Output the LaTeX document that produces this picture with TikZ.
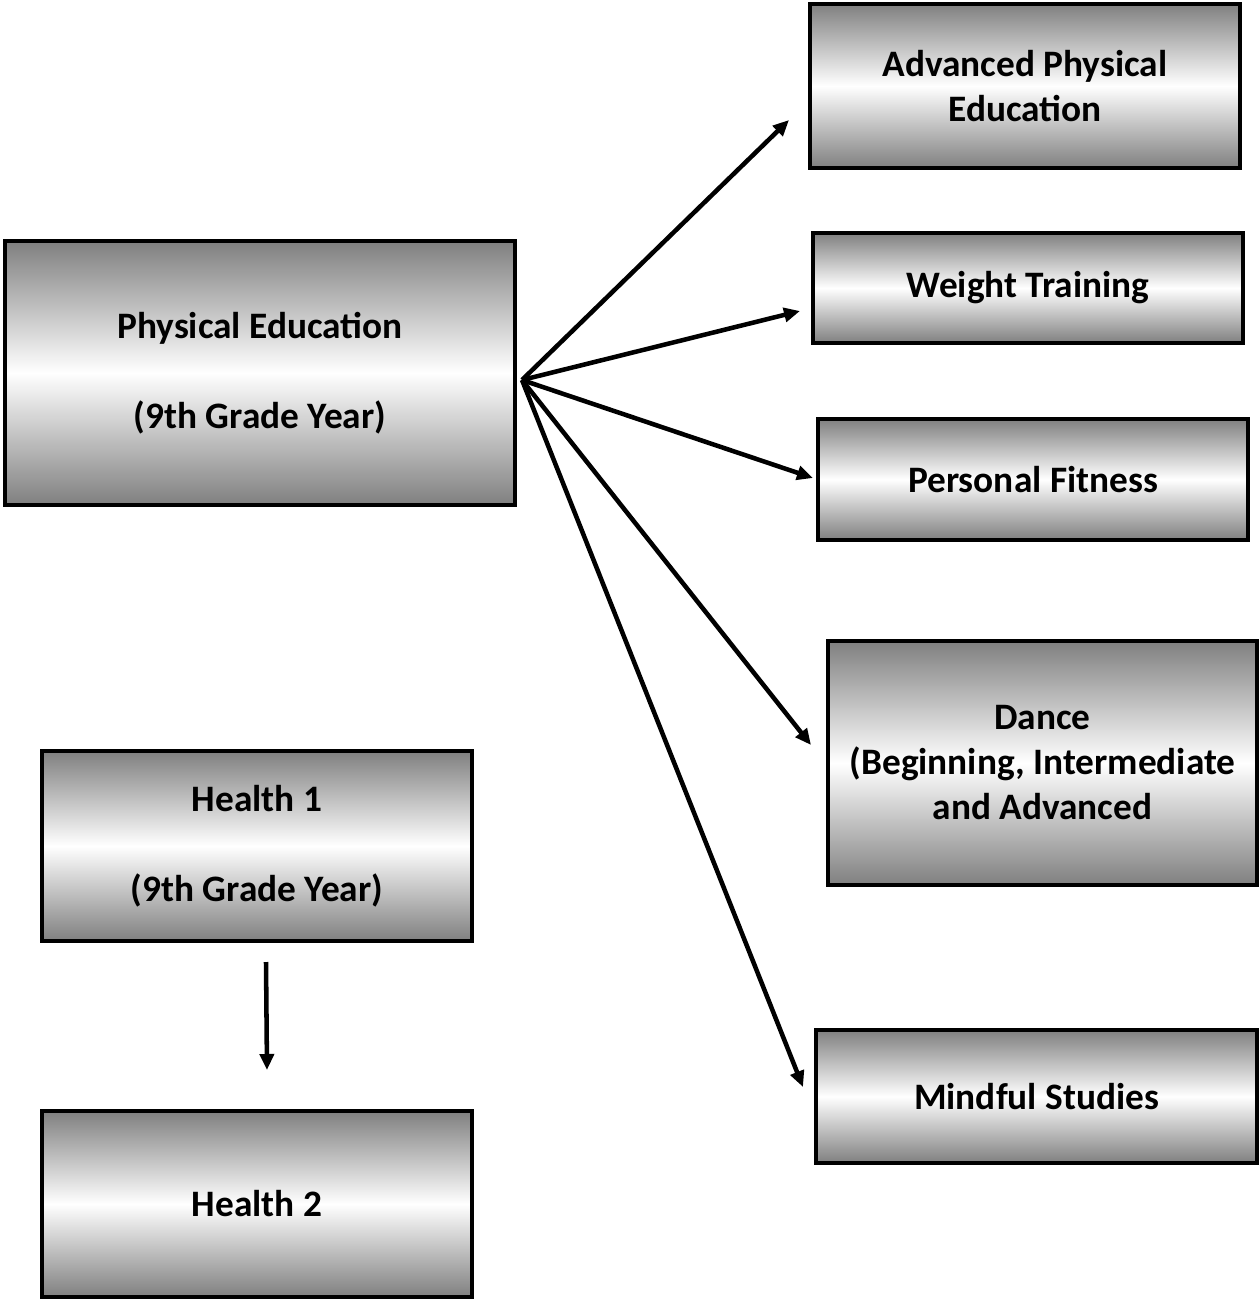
\documentclass[tikz,border=0pt]{standalone}
\usepackage{fontspec}
\setmainfont{Carlito}
\usetikzlibrary{arrows.meta}
\tikzset{
  box/.style 2 args={draw=black, line width=2.3pt, rectangle,
    top color=gray, bottom color=gray, middle color=white,
    minimum width=#1*0.75pt, minimum height=#2*0.75pt,
    inner sep=1pt, align=center,
    font=\fontsize{28}{33.75}\selectfont\bfseries},
  conn/.style={line width=3.4pt, -{Triangle[length=12pt,width=10.5pt]}}
}
\begin{document}
\begin{tikzpicture}[x=0.75pt,y=-0.75pt]
\useasboundingbox (0,0) rectangle (1259,1299);
\node[box={510}{264}] (pe) at (260,373) {Physical Education\\[33.75pt](9th Grade Year)};
\node[box={430}{164}] (adv) at (1025,86) {Advanced Physical\\Education};
\node[box={430}{110}] (wt) at (1028,288) {Weight Training};
\node[box={430}{121}] (pf) at (1033,479.5) {Personal Fitness};
\node[box={429}{244}] (dance) at (1042.5,763) {Dance\\(Beginning, Intermediate\\and Advanced};
\node[box={441}{133}] (ms) at (1036.5,1096.5) {Mindful Studies};
\node[box={430}{190}] (h1) at (257,846) {Health 1\\[33.75pt](9th Grade Year)};
\node[box={430}{186}] (h2) at (257,1204) {Health 2};
\coordinate (src) at (522,380);
\coordinate (eadv) at (789,120);
\coordinate (ewt) at (800,311);
\coordinate (epf) at (813,478);
\coordinate (edance) at (811,745);
\coordinate (ems) at (803,1087);
\coordinate (hs) at (266,962);
\coordinate (he) at (267,1070);
\draw[conn] (src) -- (eadv);
\draw[conn] (src) -- (ewt);
\draw[conn] (src) -- (epf);
\draw[conn] (src) -- (edance);
\draw[conn] (src) -- (ems);
\draw[conn] (hs) -- (he);
\end{tikzpicture}
\end{document}
